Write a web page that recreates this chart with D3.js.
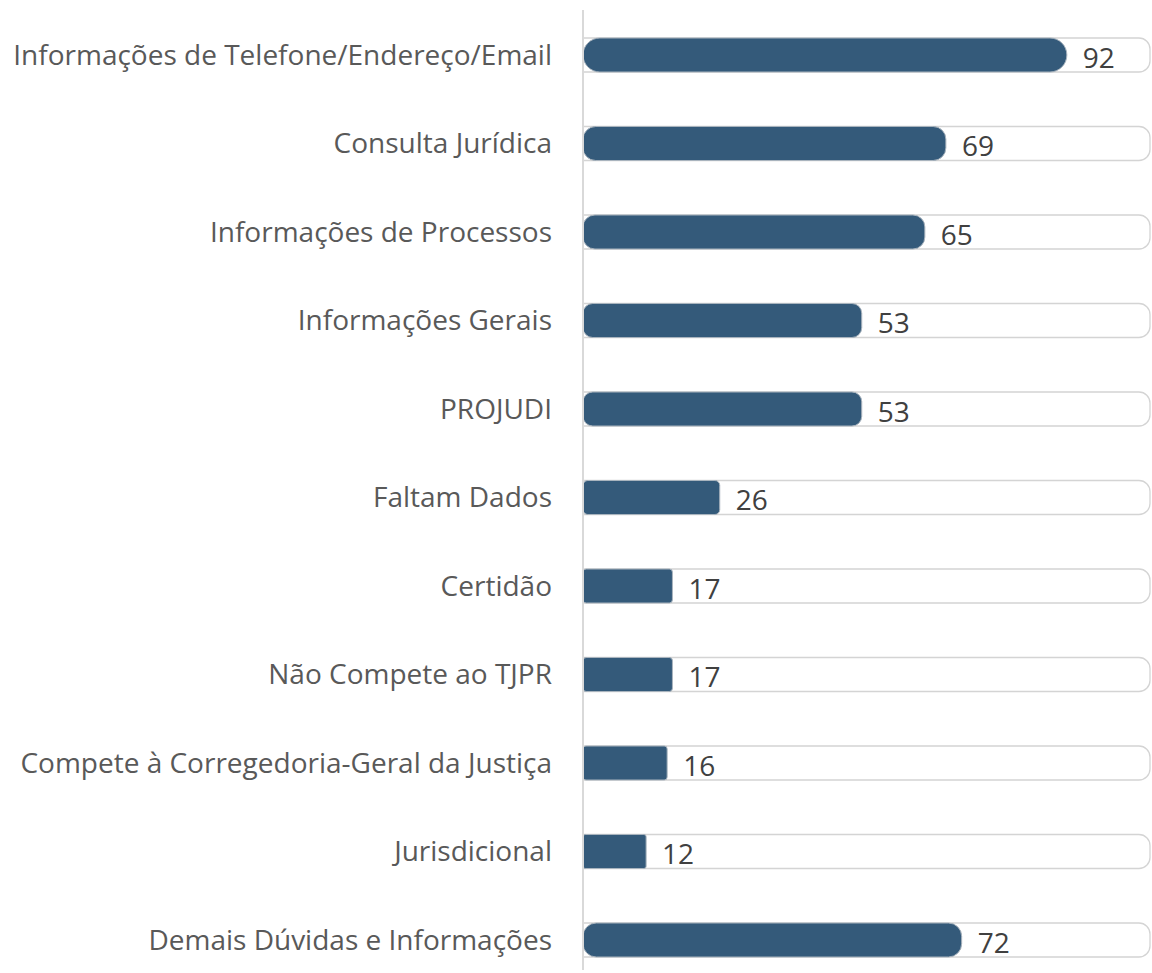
<!DOCTYPE html>
<html lang="pt">
<head>
<meta charset="UTF-8">
<title>Assuntos</title>
<script src="https://d3js.org/d3.v7.min.js"></script>
<style>
  body { margin: 0; background: #fff; }
  svg { display: block; }
  .label { font-family: "Open Sans", sans-serif; font-size: 28px; fill: #595959; }
  .value { font-family: "Open Sans", sans-serif; font-size: 28px; fill: #404040; }
</style>
</head>
<body>
<script>
  // categories and counts, top to bottom
  const categories = [
    "Informações de Telefone/Endereço/Email",
    "Consulta Jurídica",
    "Informações de Processos",
    "Informações Gerais",
    "PROJUDI",
    "Faltam Dados",
    "Certidão",
    "Não Compete ao TJPR",
    "Compete à Corregedoria-Geral da Justiça",
    "Jurisdicional",
    "Demais Dúvidas e Informações"
  ];
  const values = [92, 69, 65, 53, 53, 26, 17, 17, 16, 12, 72];
  const trackMax = 108; // background track length

  const width = 1152, height = 973;
  const barH = 34;

  const svg = d3.select("body").append("svg")
    .attr("width", width)
    .attr("height", height);

  const x = d3.scaleLinear().domain([0, trackMax]).range([583, 1151]);
  const y = d3.scalePoint().domain(categories).range([55, 940]);

  const data = categories.map((c, i) => ({ name: c, value: values[i] }));

  // rounded rect path with separate left/right radius
  function roundedBar(x0, y0, w, h, rl, rr) {
    const p = d3.path();
    p.moveTo(x0 + rl, y0);
    p.lineTo(x0 + w - rr, y0);
    p.arcTo(x0 + w, y0, x0 + w, y0 + rr, rr);
    p.lineTo(x0 + w, y0 + h - rr);
    p.arcTo(x0 + w, y0 + h, x0 + w - rr, y0 + h, rr);
    p.lineTo(x0 + rl, y0 + h);
    p.arcTo(x0, y0 + h, x0, y0 + h - rl, rl);
    p.lineTo(x0, y0 + rl);
    p.arcTo(x0, y0, x0 + rl, y0, rl);
    p.closePath();
    return p.toString();
  }

  // tracks
  svg.append("g").selectAll("path")
    .data(data)
    .join("path")
    .attr("d", d => roundedBar(x(0), y(d.name) - barH / 2, x(trackMax) - x(0) - 1, barH, 0, 11))
    .attr("fill", "#fff")
    .attr("stroke", "#d4d4d4")
    .attr("stroke-width", 1.3);

  // bars
  svg.append("g").selectAll("path")
    .data(data)
    .join("path")
    .attr("d", d => {
      const w = x(d.value) - x(0);
      const r = Math.min(barH / 2, w * 0.035);
      return roundedBar(x(0), y(d.name) - barH / 2, w, barH, r, r);
    })
    .attr("fill", "#345a7a")
    .attr("stroke", "#a9b4be")
    .attr("stroke-width", 1);

  // axis line
  svg.append("line")
    .attr("x1", x(0)).attr("x2", x(0))
    .attr("y1", 10).attr("y2", 970)
    .attr("stroke", "#d9d9d9")
    .attr("stroke-width", 2);

  // category labels
  svg.append("g").selectAll("text")
    .data(data)
    .join("text")
    .attr("class", "label")
    .attr("x", 552)
    .attr("y", d => y(d.name))
    .attr("dy", "0.35em")
    .attr("text-anchor", "end")
    .text(d => d.name);

  // value labels
  svg.append("g").selectAll("text")
    .data(data)
    .join("text")
    .attr("class", "value")
    .attr("x", d => x(d.value) + 16)
    .attr("y", d => y(d.name) + 3)
    .attr("dy", "0.35em")
    .text(d => d.value);
</script>
</body>
</html>
